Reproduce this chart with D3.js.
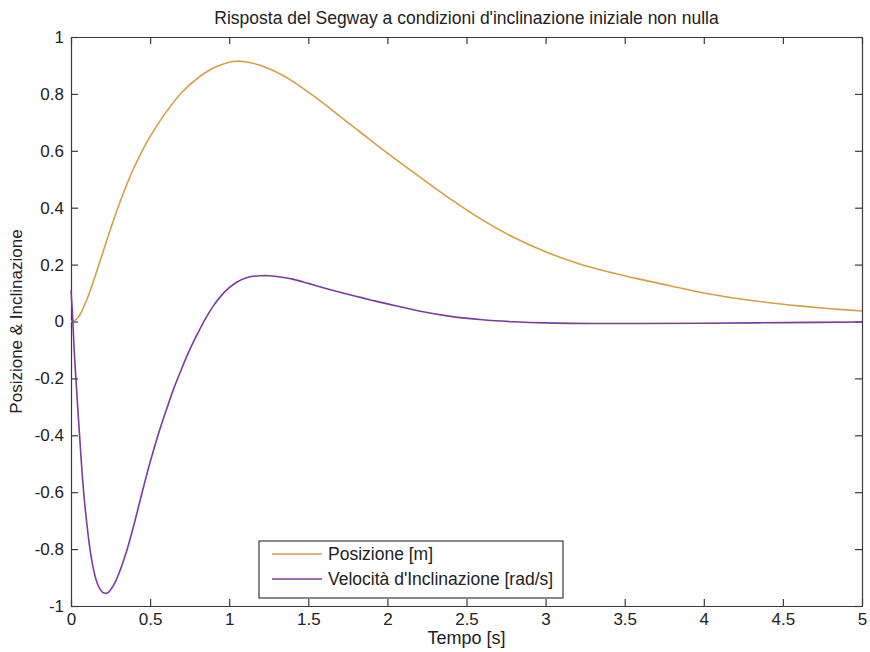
<!DOCTYPE html>
<html>
<head>
<meta charset="utf-8">
<script src="https://cdn.jsdelivr.net/npm/d3@7"></script>
<style>
  body { margin: 0; background: #fff; }
  svg { font-family: "Liberation Sans", Arial, sans-serif; }
</style>
</head>
<body>
<svg id="chart" width="870" height="652"></svg>
<script>
// time samples (s) and the two responses
var posTime = [0, 0.025, 0.05, 0.1, 0.15, 0.2, 0.25, 0.3, 0.35, 0.4, 0.45, 0.5, 0.6, 0.7, 0.8, 0.9, 1.0, 1.05, 1.1, 1.2, 1.3, 1.4, 1.5, 1.6, 1.7, 1.8, 1.9, 2.0, 2.2, 2.4, 2.6, 2.8, 3.0, 3.2, 3.4, 3.6, 3.8, 4.0, 4.2, 4.4, 4.6, 4.8, 5.0];
var posValues = [0, 0.004, 0.018, 0.077, 0.155, 0.24, 0.325, 0.405, 0.478, 0.543, 0.6, 0.65, 0.735, 0.805, 0.855, 0.891, 0.911, 0.915, 0.913, 0.9, 0.876, 0.845, 0.806, 0.765, 0.721, 0.678, 0.635, 0.592, 0.51, 0.43, 0.357, 0.295, 0.245, 0.205, 0.174, 0.148, 0.124, 0.1, 0.082, 0.067, 0.055, 0.045, 0.037];

var velTime = [0, 0.01, 0.02, 0.04, 0.06, 0.08, 0.1, 0.12, 0.14, 0.16, 0.18, 0.2, 0.22, 0.24, 0.26, 0.28, 0.3, 0.35, 0.4, 0.45, 0.5, 0.55, 0.6, 0.65, 0.7, 0.75, 0.8, 0.85, 0.9, 0.95, 1.0, 1.05, 1.1, 1.15, 1.2, 1.25, 1.3, 1.4, 1.5, 1.6, 1.7, 1.8, 1.9, 2.0, 2.2, 2.4, 2.6, 2.8, 3.0, 3.3, 3.6, 4.0, 4.5, 5.0];
var velValues = [0.11, 0.02, -0.1, -0.28, -0.45, -0.6, -0.71, -0.8, -0.865, -0.91, -0.937, -0.952, -0.955, -0.95, -0.935, -0.915, -0.89, -0.81, -0.71, -0.6, -0.495, -0.4, -0.315, -0.235, -0.165, -0.1, -0.043, 0.01, 0.055, 0.091, 0.119, 0.139, 0.152, 0.159, 0.161, 0.161, 0.158, 0.149, 0.134, 0.118, 0.103, 0.089, 0.075, 0.062, 0.037, 0.018, 0.006, -0.001, -0.005, -0.007, -0.007, -0.006, -0.004, -0.002];

var xTicks = [0, 0.5, 1, 1.5, 2, 2.5, 3, 3.5, 4, 4.5, 5];
var yTicks = [-1, -0.8, -0.6, -0.4, -0.2, 0, 0.2, 0.4, 0.6, 0.8, 1];

var seriesNames = ["Posizione [m]", "Velocità d'Inclinazione [rad/s]"];
var seriesColors = ["#d4a044", "#7b3c9a"];

var svg = d3.select("#chart"),
    margin = {top: 37, right: 8, bottom: 46, left: 71},
    width = 870 - margin.left - margin.right,
    height = 652 - margin.top - margin.bottom;

var x = d3.scaleLinear().domain([0, 5]).range([0, width]),
    y = d3.scaleLinear().domain([-1, 1]).range([height, 0]);

var g = svg.append("g")
    .attr("transform", "translate(" + margin.left + "," + margin.top + ")");

var axisColor = "#3a3a3a";

// Bottom axis with ticks pointing inward
g.append("g")
    .attr("class", "axis axis--x")
    .attr("transform", "translate(0," + height + ")")
    .call(d3.axisBottom(x).tickValues(xTicks).tickSizeInner(-7).tickSizeOuter(0).tickPadding(7)
        .tickFormat(function (d) { return String(d); }));

// Top axis, ticks only
g.append("g")
    .attr("class", "axis axis--top")
    .call(d3.axisTop(x).tickValues(xTicks).tickSizeInner(-7).tickSizeOuter(0).tickFormat(""));

// Left axis
g.append("g")
    .attr("class", "axis axis--y")
    .call(d3.axisLeft(y).tickValues(yTicks).tickSizeInner(-7).tickSizeOuter(0).tickPadding(7)
        .tickFormat(function (d) { return String(d); }));

// Right axis, ticks only
g.append("g")
    .attr("class", "axis axis--right")
    .attr("transform", "translate(" + width + ",0)")
    .call(d3.axisRight(y).tickValues(yTicks).tickSizeInner(-7).tickSizeOuter(0).tickFormat(""));

g.selectAll(".axis path").attr("stroke", axisColor).attr("stroke-width", 1.2);
g.selectAll(".axis line").attr("stroke", axisColor).attr("stroke-width", 1.2);
g.selectAll(".axis text")
    .attr("fill", "#222")
    .attr("font-size", "17px")
    .attr("font-family", "'Liberation Sans', Arial, sans-serif");

// Lines
var line = d3.line()
    .x(function (d) { return x(d[0]); })
    .y(function (d) { return y(d[1]); })
    .curve(d3.curveCatmullRom.alpha(0.5));

var seriesData = [
    d3.zip(posTime, posValues),
    d3.zip(velTime, velValues)
];

g.selectAll(".series")
    .data(seriesData)
    .enter()
    .append("path")
    .attr("class", "series")
    .attr("fill", "none")
    .attr("stroke", function (d, i) { return seriesColors[i]; })
    .attr("stroke-width", 1.6)
    .attr("d", line);

// Title and axis captions
svg.append("text")
    .attr("x", margin.left + width / 2)
    .attr("y", 24)
    .attr("text-anchor", "middle")
    .attr("font-size", "17.5px")
    .attr("fill", "#222")
    .text("Risposta del Segway a condizioni d'inclinazione iniziale non nulla");

svg.append("text")
    .attr("x", margin.left + width / 2)
    .attr("y", 644)
    .attr("text-anchor", "middle")
    .attr("font-size", "18px")
    .attr("fill", "#222")
    .text("Tempo [s]");

svg.append("text")
    .attr("transform", "translate(22," + (margin.top + height / 2) + ") rotate(-90)")
    .attr("text-anchor", "middle")
    .attr("font-size", "17px")
    .attr("fill", "#222")
    .text("Posizione & Inclinazione");

// Legend
var legend = g.append("g")
    .attr("transform", "translate(" + (259 - margin.left) + "," + (541 - margin.top) + ")");

legend.append("rect")
    .attr("width", 304)
    .attr("height", 57)
    .attr("fill", "#fff")
    .attr("stroke", axisColor)
    .attr("stroke-width", 1.2);

var items = legend.selectAll(".legend-item")
    .data(seriesNames)
    .enter()
    .append("g")
    .attr("class", "legend-item")
    .attr("transform", function (d, i) { return "translate(0," + (13 + i * 25) + ")"; });

items.append("line")
    .attr("x1", 13).attr("x2", 63)
    .attr("stroke", function (d, i) { return seriesColors[i]; })
    .attr("stroke-width", 1.6);

items.append("text")
    .attr("x", 69)
    .attr("dy", "0.35em")
    .attr("font-size", "17.5px")
    .attr("fill", "#222")
    .text(function (d) { return d; });
</script>
</body>
</html>
